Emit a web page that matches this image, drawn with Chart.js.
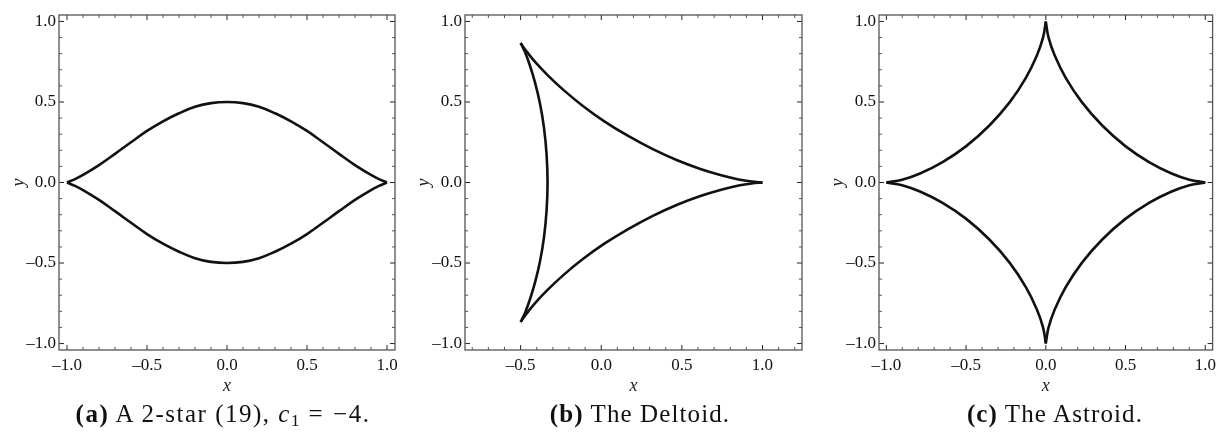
<!DOCTYPE html>
<html>
<head>
<meta charset="utf-8">
<script src="https://cdn.jsdelivr.net/npm/chart.js@4"></script>
<style>
  body { margin: 0; background: #fff; width: 1221px; height: 439px; overflow: hidden; position: relative; }
  canvas { position: absolute; top: 0; }
  .cap { position: absolute; top: 399px; line-height: 29px; font-family: 'Liberation Serif', serif; font-size: 25px; letter-spacing: 1.1px; color: #111; white-space: nowrap; transform: translateX(-50%); }
  .cap b { font-weight: bold; }
  .cap .op { margin: 0 9px; }
  .cap .sub { font-size: 17px; position: relative; top: 4px; letter-spacing: 0; }
  .cap.wide { letter-spacing: 1.5px; }
</style>
</head>
<body>
<canvas id="chartA" width="405" height="400" style="left:0"></canvas>
<canvas id="chartB" width="405" height="400" style="left:405px"></canvas>
<canvas id="chartC" width="411" height="400" style="left:810px"></canvas>
<div class="cap wide" style="left:223px"><b>(a)</b> A 2-star (19), <i>c</i><span class="sub">1</span><span class="op">=</span>−4.</div>
<div class="cap" style="left:640px"><b>(b)</b> The Deltoid.</div>
<div class="cap" style="left:1055px"><b>(c)</b> The Astroid.</div>
<script>
// ---- data ----

// (a) 2-star
const starX     = [-1, -0.95, -0.9, -0.8, -0.7, -0.6, -0.5, -0.4, -0.3, -0.2, -0.1, 0, 0.1, 0.2, 0.3, 0.4, 0.5, 0.6, 0.7, 0.8, 0.9, 0.95, 1];
const starUpper = [0, 0.021, 0.047, 0.108, 0.178, 0.25, 0.32, 0.38, 0.43, 0.47, 0.493, 0.5, 0.493, 0.47, 0.43, 0.38, 0.32, 0.25, 0.178, 0.108, 0.047, 0.021, 0];
const starLower = [0, -0.021, -0.047, -0.108, -0.178, -0.25, -0.32, -0.38, -0.43, -0.47, -0.493, -0.5, -0.493, -0.47, -0.43, -0.38, -0.32, -0.25, -0.178, -0.108, -0.047, -0.021, 0];

// (b) deltoid, three arcs between the cusps
const deltTopX    = [1, 0.933, 0.852, 0.744, 0.615, 0.471, 0.320, 0.167, 0.019, -0.116, -0.235, -0.333, -0.409, -0.461, -0.491, -0.5];
const deltTopY    = [0, 0.006, 0.019, 0.045, 0.084, 0.138, 0.207, 0.289, 0.380, 0.477, 0.575, 0.667, 0.747, 0.811, 0.852, 0.866];
const deltBottomX = [1, 0.933, 0.852, 0.744, 0.615, 0.471, 0.320, 0.167, 0.019, -0.116, -0.235, -0.333, -0.409, -0.461, -0.491, -0.5];
const deltBottomY = [0, -0.006, -0.019, -0.045, -0.084, -0.138, -0.207, -0.289, -0.380, -0.477, -0.575, -0.667, -0.747, -0.811, -0.852, -0.866];
const deltLeftX   = [-0.5, -0.492, -0.471, -0.443, -0.411, -0.380, -0.355, -0.339, -0.333, -0.339, -0.355, -0.380, -0.411, -0.443, -0.471, -0.492, -0.5];
const deltLeftY   = [0.866, 0.851, 0.805, 0.728, 0.622, 0.491, 0.339, 0.173, 0, -0.173, -0.339, -0.491, -0.622, -0.728, -0.805, -0.851, -0.866];

// (c) astroid, one arc per quadrant
const astQ1X = [1, 0.901, 0.789, 0.650, 0.499, 0.354, 0.226, 0.125, 0.056, 0.017, 0];
const astQ1Y = [0, 0.017, 0.056, 0.125, 0.226, 0.354, 0.499, 0.650, 0.789, 0.901, 1];
const astQ2X = [-1, -0.901, -0.789, -0.650, -0.499, -0.354, -0.226, -0.125, -0.056, -0.017, 0];
const astQ2Y = [0, 0.017, 0.056, 0.125, 0.226, 0.354, 0.499, 0.650, 0.789, 0.901, 1];
const astQ3X = [-1, -0.901, -0.789, -0.650, -0.499, -0.354, -0.226, -0.125, -0.056, -0.017, 0];
const astQ3Y = [0, -0.017, -0.056, -0.125, -0.226, -0.354, -0.499, -0.650, -0.789, -0.901, -1];
const astQ4X = [1, 0.901, 0.789, 0.650, 0.499, 0.354, 0.226, 0.125, 0.056, 0.017, 0];
const astQ4Y = [0, -0.017, -0.056, -0.125, -0.226, -0.354, -0.499, -0.650, -0.789, -0.901, -1];

// tick labels
const ticksA  = [-1, -0.5, 0, 0.5, 1];
const ticksBx = [-0.5, 0, 0.5, 1];
const ticksY  = [-1, -0.5, 0, 0.5, 1];

// ---- drawing ----
const SERIF = "'Liberation Serif', 'Times New Roman', serif";

function pts(xs, ys) { return xs.map((v, i) => ({ x: v, y: ys[i] })); }

function curve(xs, ys) {
  return {
    data: pts(xs, ys),
    showLine: true,
    borderColor: '#111',
    borderWidth: 2.6,
    pointRadius: 0,
    tension: 0.4,
    fill: false
  };
}

function fmt(v) { return (v < 0 ? '–' : '') + Math.abs(v).toFixed(1); }

// Mathematica-style frame: border on four sides, inward ticks every 0.1, longer at 0.5
const framePlugin = {
  id: 'frame',
  afterDraw(chart) {
    const { ctx, chartArea: a, scales: { x, y } } = chart;
    ctx.save();
    ctx.lineWidth = 1;
    const walk = (sc, fn) => {
      const start = Math.ceil(sc.min * 10 - 1e-6);
      const end = Math.floor(sc.max * 10 + 1e-6);
      for (let k = start; k <= end; k++) {
        const major = k % 5 === 0;
        fn(sc.getPixelForValue(k / 10), major ? 5 : 3, major);
      }
    };
    walk(x, (p, len, major) => {
      ctx.strokeStyle = major ? '#222' : '#555';
      ctx.beginPath();
      ctx.moveTo(p, a.bottom); ctx.lineTo(p, a.bottom - len);
      ctx.moveTo(p, a.top); ctx.lineTo(p, a.top + len);
      ctx.stroke();
    });
    walk(y, (p, len, major) => {
      ctx.strokeStyle = major ? '#222' : '#555';
      ctx.beginPath();
      ctx.moveTo(a.left, p); ctx.lineTo(a.left + len, p);
      ctx.moveTo(a.right, p); ctx.lineTo(a.right - len, p);
      ctx.stroke();
    });
    ctx.strokeStyle = '#555';
    ctx.lineWidth = 1.3;
    ctx.strokeRect(a.left, a.top, a.right - a.left, a.bottom - a.top);
    ctx.restore();
  }
};

function makeChart(id, datasets, xr, xTicks, yWidth, yTitlePad, rightPad) {
  new Chart(document.getElementById(id), {
    type: 'scatter',
    data: { datasets },
    options: {
      responsive: false,
      animation: false,
      devicePixelRatio: 1,
      layout: { padding: { top: 15, right: rightPad, left: 0, bottom: 0 } },
      plugins: { legend: { display: false }, tooltip: { enabled: false } },
      scales: {
        x: {
          type: 'linear', min: xr[0], max: xr[1],
          afterBuildTicks: s => { s.ticks = xTicks.map(v => ({ value: v })); },
          afterFit: s => { s.height = 50; },
          grid: { display: false, drawTicks: false },
          border: { display: false },
          ticks: { padding: 5, color: '#111', font: { family: SERIF, size: 17 }, callback: fmt, maxRotation: 0 },
          title: { display: true, text: 'x', color: '#222', padding: { bottom: 3 }, font: { family: SERIF, size: 18, style: 'italic' } }
        },
        y: {
          type: 'linear', min: -1.04, max: 1.04,
          afterBuildTicks: s => { s.ticks = ticksY.map(v => ({ value: v })); },
          afterFit: s => { s.width = yWidth; },
          grid: { display: false, drawTicks: false },
          border: { display: false },
          ticks: { padding: 3, color: '#111', font: { family: SERIF, size: 17 }, callback: fmt },
          title: { display: true, text: 'y', color: '#222', padding: { top: yTitlePad }, font: { family: SERIF, size: 18, style: 'italic' } }
        }
      }
    },
    plugins: [framePlugin]
  });
}

makeChart('chartA', [curve(starX, starUpper), curve(starX, starLower)],
  [-1.05, 1.05], ticksA, 59, 8, 10);

makeChart('chartB', [curve(deltTopX, deltTopY), curve(deltBottomX, deltBottomY), curve(deltLeftX, deltLeftY)],
  [-0.845, 1.245], ticksBx, 60, 8, 8);

makeChart('chartC', [curve(astQ1X, astQ1Y), curve(astQ2X, astQ2Y), curve(astQ3X, astQ3Y), curve(astQ4X, astQ4Y)],
  [-1.046, 1.046], ticksA, 69, 17, 5);
</script>
</body>
</html>
